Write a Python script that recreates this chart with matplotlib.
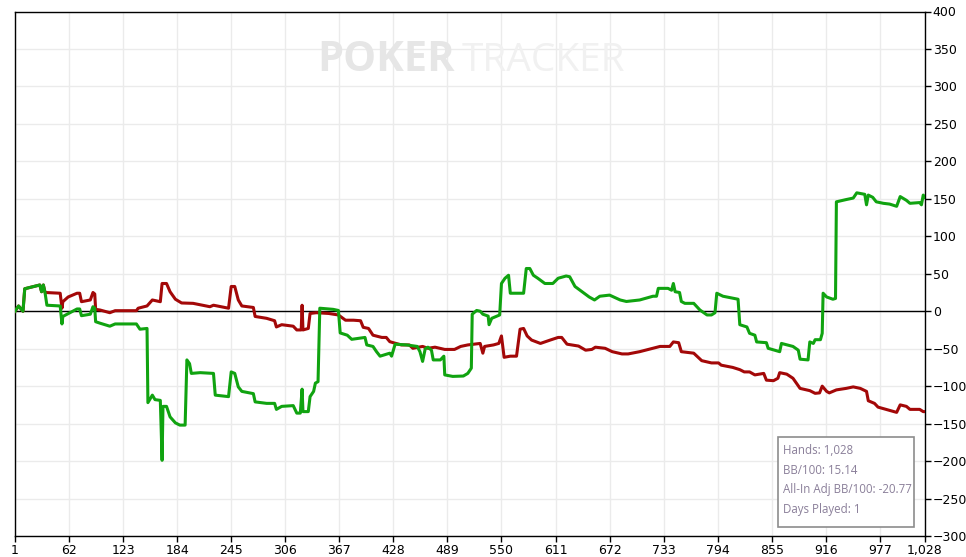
import matplotlib
matplotlib.use("Agg")
from matplotlib import pyplot as plt
from matplotlib.patches import Rectangle

# hand number / net won (BB) for the actual results line
green_hands = [1, 5, 10, 12, 29, 31, 33, 35, 37, 52, 54, 55, 63, 71, 74, 76, 86, 89, 91, 92,
               97, 108, 114, 138, 142, 150, 151, 156, 159, 165, 167, 168, 172, 176, 182, 187,
               193, 195, 198, 200, 210, 225, 227, 242, 245, 249, 253, 257, 270, 272, 285, 294,
               296, 302, 315, 319, 323, 325, 326, 332, 334, 338, 340, 343, 345, 360, 366, 368,
               376, 381, 396, 398, 405, 409, 413, 424, 426, 430, 443, 455, 458, 461, 464, 467,
               471, 473, 481, 485, 486, 495, 507, 512, 516, 517, 522, 526, 529, 535, 536, 539,
               548, 550, 554, 558, 560, 575, 578, 582, 586, 591, 599, 608, 614, 623, 627, 633,
               641, 649, 655, 661, 672, 684, 691, 706, 721, 725, 727, 738, 742, 744, 746, 751,
               753, 757, 767, 774, 782, 787, 791, 793, 800, 817, 819, 827, 830, 836, 838, 849,
               851, 864, 866, 879, 885, 887, 896, 898, 902, 904, 910, 912, 913, 917, 924, 927,
               928, 939, 947, 951, 960, 962, 964, 969, 973, 981, 988, 996, 1000, 1007, 1011,
               1022, 1024, 1026, 1028]
green_vals = [0, 7, 0, 30, 35, 26, 35, 24, 8, 7, -17, -7, -2, 3, 3, -6, -4, 6, 4, -14,
              -16, -20, -17, -17, -24, -23, -122, -112, -118, -119, -199, -127, -127, -141, -149, -152,
              -152, -65, -70, -83, -82, -83, -112, -114, -81, -83, -101, -107, -110, -121, -123, -123,
              -131, -127, -126, -136, -136, -104, -134, -134, -114, -107, -96, -94, 4, 2.5, 1, -29,
              -32, -37.5, -35, -45, -47, -54, -60, -56, -60, -44, -45, -47, -54, -67, -50, -48,
              -52, -65, -65, -60, -85, -87, -86.5, -83, -76, -4, 1, 0, -4, -6.5, -18, -9.5,
              -5, 37, 44, 48, 24, 24, 57, 57, 48, 44, 37, 37, 44, 47, 46, 33,
              26, 19, 15, 20, 21.5, 15, 13, 15, 20, 20, 30.5, 30.5, 28, 37, 26, 25,
              13, 10.5, 10.5, 1.6, -5, -5, -2, 24, 20, 16, -18, -21, -29.5, -32, -41, -42,
              -49.5, -54, -43, -47, -52, -64, -65, -41, -43, -38, -38, -29.5, 24, 19, 16, 17,
              146, 149, 151, 158, 156, 142, 155, 152, 146, 144, 143, 140, 153, 148, 144,
              145, 142, 155, 152]

# hand number / all-in adjusted net won (BB)
red_hands = [1, 5, 10, 12, 29, 31, 33, 35, 52, 54, 55, 61, 71, 74, 76, 86, 89, 91, 92, 97,
             108, 114, 138, 140, 150, 156, 165, 167, 172, 176, 182, 189, 202, 221, 225, 242,
             245, 249, 253, 257, 270, 272, 285, 294, 296, 302, 315, 319, 324, 325, 326, 332,
             334, 341, 355, 366, 374, 383, 391, 394, 400, 405, 415, 420, 424, 437, 446, 450,
             461, 467, 475, 486, 497, 504, 512, 526, 529, 531, 541, 547, 550, 553, 560, 567,
             571, 575, 579, 584, 594, 605, 614, 618, 624, 637, 645, 652, 656, 667, 675, 686,
             693, 706, 721, 729, 740, 744, 750, 753, 767, 776, 787, 795, 798, 811, 819, 824,
             830, 836, 846, 849, 857, 862, 864, 872, 879, 887, 898, 904, 909, 912, 917, 920,
             928, 939, 947, 955, 962, 964, 971, 975, 984, 996, 1000, 1007, 1011, 1022, 1026, 1028]
red_vals = [0, 7, 0, 30, 35, 26, 35, 25, 24, 4, 12.7, 19, 24, 24, 12.7, 15, 25, 23, 2.5, 1.6,
            -2, 0.7, 0.7, 4, 7, 15, 12.7, 37, 37, 26, 16, 11, 10.5, 6, 8, 4,
            33, 33, 15, 7, 5, -7, -9.5, -12.7, -21, -18, -20, -25, -25, 8, -25, -23,
            -3, -2, -3, -5, -12, -12, -12.7, -21.5, -23, -32, -35, -35, -40.7, -45, -45, -49.5,
            -47, -49.5, -48, -51, -51, -47, -45, -43, -56, -47, -45, -43, -33, -61.5, -60, -60,
            -24, -23, -33, -38.5, -43, -38.5, -35, -35, -44, -46.5, -52, -51, -48, -49.5, -54, -57,
            -57, -54, -49.5, -47, -47, -41, -42, -54, -56, -66, -69, -69, -72, -75, -78, -81,
            -81, -85, -83, -92, -92.7, -89.5, -82, -84, -89.5, -103, -106, -109.6, -109, -100, -107, -109,
            -105, -103, -101, -103, -107, -119.5, -123, -128, -131, -135, -125, -127, -131, -131, -134, -134]

x_ticks = [1, 62, 123, 184, 245, 306, 367, 428, 489, 550, 611, 672, 733, 794, 855, 916, 977, 1028]
y_ticks = list(range(-300, 401, 50))

info_lines = ["Hands: 1,028", "BB/100: 15.14", "All-In Adj BB/100: -20.77", "Days Played: 1"]

W, H = 966, 557
fig = plt.figure(figsize=(W / 100, H / 100), dpi=100)
ax = fig.add_axes([15 / W, 21 / H, 910 / W, 524.5 / H])

# watermark
fig.text(455 / W, 1 - 61 / H, "POKER", fontsize=30, fontweight="bold", family="Open Sans",
         color="#e6e6e6", ha="right", va="center", zorder=0)
fig.text(462 / W, 1 - 61 / H, "TRACKER", fontsize=28, family="Open Sans",
         color="#f1f1f1", ha="left", va="center", zorder=0)

ax.set_facecolor("none")
ax.plot(red_hands, red_vals, color="#a30808", lw=2.2, zorder=3, solid_joinstyle="round")
ax.plot(green_hands, green_vals, color="#10a310", lw=2.2, zorder=4, solid_joinstyle="round")
ax.axhline(0, color="black", lw=1, zorder=2)

ax.set_xlim(1, 1028)
ax.set_ylim(-300, 400)
ax.set_xticks(x_ticks)
ax.set_xticklabels([f"{t:,}" for t in x_ticks])
ax.set_yticks(y_ticks)
ax.yaxis.tick_right()
ax.grid(True, color="#ebebeb", lw=1, zorder=0)
ax.set_axisbelow(True)
for s in ax.spines.values():
    s.set_color("black")
    s.set_linewidth(1.0)
ax.tick_params(axis="both", length=4, width=1, color="black", labelsize=9,
               labelcolor="black", pad=1.5)
ax.tick_params(axis="y", right=True, left=False)
for lab in ax.get_xticklabels() + ax.get_yticklabels():
    lab.set_family("DejaVu Sans")

# info box
fig.patches.append(Rectangle((778 / W, 1 - 527 / H), 136 / W, 90 / H, transform=fig.transFigure,
                             facecolor="white", edgecolor="#8c8c8c", lw=1.2, zorder=5))
for i, line in enumerate(info_lines):
    fig.text(783 / W, 1 - (450 + 20 * i) / H, line, fontsize=8.3, family="Open Sans",
             color="#8a7f99", ha="left", va="center", zorder=6)

fig.savefig("out.png", dpi=100)
